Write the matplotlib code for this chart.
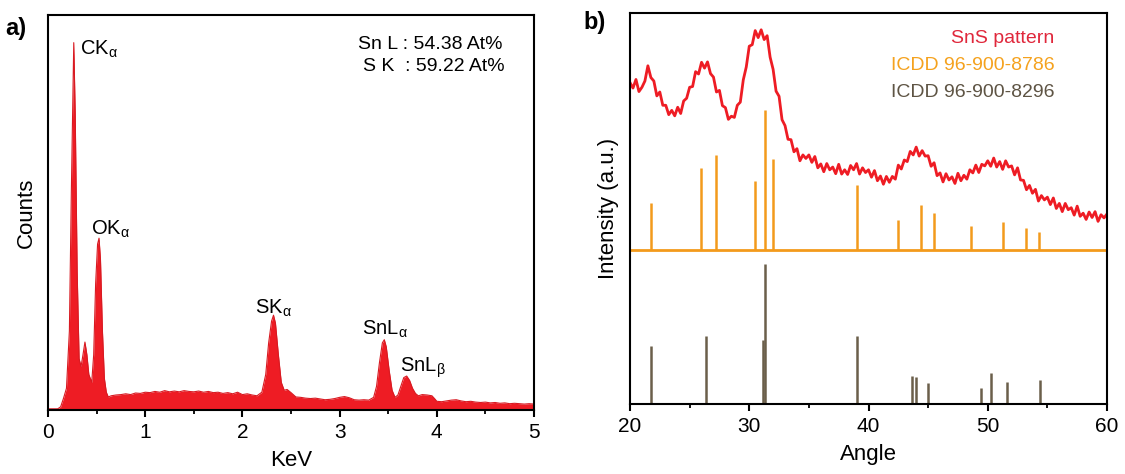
import matplotlib
matplotlib.use("Agg")
import matplotlib.pyplot as plt
import numpy as np

plt.rcParams['font.family'] = ['Liberation Sans', 'DejaVu Sans']
plt.rcParams['mathtext.fontset'] = 'custom'
plt.rcParams['mathtext.rm'] = 'Liberation Sans'
plt.rcParams['mathtext.it'] = 'Liberation Sans'

# ---- a) EDS spectrum (keV, counts in arbitrary units) ----
eds_kev = [0.00, 0.10, 0.13, 0.16, 0.19, 0.22, 0.24, 0.265, 0.28, 0.30, 0.32, 0.34,
           0.36, 0.38, 0.40, 0.42, 0.45, 0.47, 0.49, 0.51, 0.525, 0.54, 0.56, 0.58,
           0.60, 0.62, 0.65, 0.70, 0.75, 0.80, 0.85, 0.90, 0.95, 1.00, 1.05, 1.10,
           1.15, 1.20, 1.25, 1.30, 1.35, 1.40, 1.45, 1.50, 1.55, 1.60, 1.65, 1.70,
           1.75, 1.80, 1.85, 1.90, 1.95, 2.00, 2.05, 2.10, 2.15, 2.20, 2.24, 2.27,
           2.30, 2.32, 2.34, 2.37, 2.40, 2.43, 2.46, 2.50, 2.55, 2.60, 2.65, 2.70,
           2.75, 2.80, 2.85, 2.90, 2.95, 3.00, 3.05, 3.10, 3.15, 3.20, 3.25, 3.30,
           3.35, 3.38, 3.41, 3.44, 3.46, 3.48, 3.51, 3.54, 3.57, 3.60, 3.63, 3.66,
           3.69, 3.72, 3.75, 3.78, 3.81, 3.85, 3.90, 3.95, 3.98, 4.00, 4.05, 4.10,
           4.15, 4.20, 4.25, 4.30, 4.35, 4.40, 4.45, 4.50, 4.55, 4.60, 4.65, 4.70,
           4.75, 4.80, 4.85, 4.90, 4.95, 5.00]
eds_counts = [0.3, 0.3, 0.8, 3.0, 5.5, 20, 55, 93, 75, 35, 13, 11,
              14, 17.2, 14, 9, 7, 14, 32, 42, 43.5, 38, 20, 8,
              4.5, 3.3, 3.6, 3.8, 3.9, 4.1, 3.9, 4.3, 4.2, 4.5, 4.4, 4.7,
              4.5, 4.9, 4.6, 4.8, 4.6, 4.9, 4.7, 4.6, 4.8, 4.5, 4.7, 4.4,
              4.5, 4.2, 4.4, 4.1, 4.5, 3.9, 4.1, 3.8, 3.6, 4.5, 9, 17,
              22.5, 24, 22, 14, 7, 5, 5.2, 4.4, 3.3, 3.2, 3.0, 2.9,
              3.0, 2.8, 2.6, 2.7, 2.9, 3.2, 3.4, 3.1, 2.6, 2.5, 2.6, 2.5,
              3.2, 6, 12, 17, 17.8, 16, 10, 5, 3.2, 3.8, 6, 8.2,
              8.6, 7.5, 5.5, 4.2, 3.6, 3.9, 3.8, 3.6, 2.8, 2.2, 2.1, 2.3,
              2.5, 2.6, 2.3, 2.1, 2.2, 2.0, 1.9, 2.0, 1.8, 1.9, 1.7, 1.8,
              1.6, 1.7, 1.6, 1.5, 1.6, 1.5]

# peak labels: (text, keV, counts at baseline)
peak_labels = [(r'CK$_{\mathrm{α}}$', 0.33, 90.0),
               (r'OK$_{\mathrm{α}}$', 0.44, 44.3),
               (r'SK$_{\mathrm{α}}$', 2.13, 24.3),
               (r'SnL$_{\mathrm{α}}$', 3.23, 19.0),
               (r'SnL$_{\mathrm{β}}$', 3.62, 9.6)]
composition = ['Sn L : 54.38 At%', 'S K  : 59.22 At%']

# ---- b) XRD pattern ----
sns_intensity = [82.2, 80.8, 83.0, 79.9, 81.0, 82.6, 86.5, 83.5, 82.6, 78.8,
                 79.8, 76.4, 76.4, 74.0, 75.1, 73.7, 75.9, 74.3, 77.5, 78.2,
                 81.0, 81.2, 85.0, 84.4, 87.4, 85.9, 87.5, 84.5, 83.6, 79.8,
                 80.2, 76.3, 75.8, 72.8, 73.6, 73.3, 76.4, 77.2, 82.9, 86.2,
                 91.5, 91.9, 95.5, 93.7, 95.7, 93.2, 94.2, 88.7, 85.6, 80.0,
                 78.7, 72.7, 71.2, 67.7, 67.6, 64.5, 65.3, 62.2, 63.7, 62.8,
                 63.7, 61.8, 63.3, 60.4, 61.4, 59.4, 61.5, 59.9, 60.6, 58.9,
                 61.3, 58.8, 59.9, 58.7, 61.0, 59.9, 61.5, 58.8, 60.4, 59.2,
                 59.9, 58.0, 59.7, 57.1, 58.3, 56.2, 58.2, 56.7, 58.2, 57.5,
                 61.1, 60.1, 62.4, 62.0, 64.6, 63.7, 65.7, 63.4, 64.8, 63.4,
                 63.5, 60.8, 61.7, 58.4, 59.1, 56.8, 58.9, 57.3, 58.1, 56.4,
                 59.0, 57.1, 58.5, 57.5, 59.9, 59.1, 61.1, 59.2, 61.3, 60.9,
                 62.2, 60.8, 62.9, 60.6, 62.0, 60.0, 62.2, 60.6, 60.9, 58.6,
                 60.4, 57.3, 57.2, 54.8, 55.9, 53.9, 54.9, 51.9, 53.3, 52.2,
                 52.9, 51.0, 52.7, 50.0, 51.3, 49.2, 51.3, 49.7, 50.2, 48.3,
                 50.6, 48.0, 48.8, 47.2, 49.1, 47.7, 49.2, 46.7, 48.4, 47.6,
                 48.6]
sns_angle = np.linspace(20, 60, len(sns_intensity))

icdd1_pos = [21.72, 25.94, 27.19, 30.48, 31.28, 31.99, 39.06, 42.45, 44.41,
             45.51, 48.57, 51.30, 53.20, 54.33]
icdd1_h = [11.9, 21.0, 24.4, 17.6, 35.7, 23.3, 16.5, 7.6, 11.5, 9.5, 6.1, 7.2, 5.6, 4.7]
icdd1_base = 39.4

icdd2_pos = [21.75, 26.35, 31.13, 31.34, 39.05, 43.65, 44.02, 44.95, 49.4,
             50.3, 51.6, 54.4]
icdd2_h = [14.8, 17.5, 16.4, 35.9, 17.3, 7.1, 6.9, 5.4, 4.0, 8.0, 5.7, 6.2]

legend_txt = ['SnS pattern', 'ICDD 96-900-8786', 'ICDD 96-900-8296']
legend_col = ['#e0283c', '#f5a21e', '#5e5444']

red = '#ee1c24'
orange = '#f39a1c'
brown = '#6b5f4a'

fig = plt.figure(figsize=(11.25, 4.74), dpi=100)
axa = fig.add_axes([48/1125, 64/474, 486/1125, 395/474])
axb = fig.add_axes([630/1125, 70/474, 477/1125, 391/474])

# panel a
axa.fill_between(eds_kev, 0, eds_counts, color=red, lw=0)
axa.plot(eds_kev, eds_counts, color='#d81a22', lw=0.8)
axa.set_xlim(0, 5)
axa.set_ylim(0, 100)
axa.set_xticks([0, 1, 2, 3, 4, 5])
axa.set_xticks(np.arange(0.5, 5, 1), minor=True)
axa.set_yticks([])
axa.set_xlabel('KeV', fontsize=16, labelpad=6)
axa.set_ylabel('Counts', fontsize=16, labelpad=8)
for txt, x, y in peak_labels:
    axa.text(x, y, txt, fontsize=14.5, ha='left', va='baseline')
axa.text(0.935, 0.925, composition[0], transform=axa.transAxes, fontsize=14,
         ha='right', va='center')
axa.text(0.94, 0.87, composition[1], transform=axa.transAxes, fontsize=14,
         ha='right', va='center')

# panel b
axb.plot(sns_angle, sns_intensity, color=red, lw=2.0)
axb.axhline(icdd1_base, color=orange, lw=2)
axb.vlines(icdd1_pos, icdd1_base, [icdd1_base + h for h in icdd1_h], color=orange, lw=1.8)
axb.vlines(icdd2_pos, 0, icdd2_h, color=brown, lw=1.8)
axb.set_xlim(20, 60)
axb.set_ylim(0, 100)
axb.set_xticks([20, 30, 40, 50, 60])
axb.set_xticks([25, 35, 45, 55], minor=True)
axb.set_yticks([])
axb.set_xlabel('Angle', fontsize=16, labelpad=6)
axb.set_ylabel('Intensity (a.u.)', fontsize=16, labelpad=8)
for i, (t, c) in enumerate(zip(legend_txt, legend_col)):
    axb.text(0.89, 0.935 - i * 0.069, t, color=c, transform=axb.transAxes,
             fontsize=14, ha='right', va='center')

for ax in (axa, axb):
    for s in ax.spines.values():
        s.set_linewidth(1.5)
    ax.tick_params(axis='x', which='major', direction='out', length=5, width=1.5,
                   labelsize=15, pad=4)
    ax.tick_params(axis='x', which='minor', direction='out', length=3, width=1.3)

fig.text(5/1125, 1 - 28/474, 'a)', fontsize=17, fontweight='bold', va='center')
fig.text(583/1125, 1 - 22/474, 'b)', fontsize=17, fontweight='bold', va='center')

fig.savefig('out.png', dpi=100)
